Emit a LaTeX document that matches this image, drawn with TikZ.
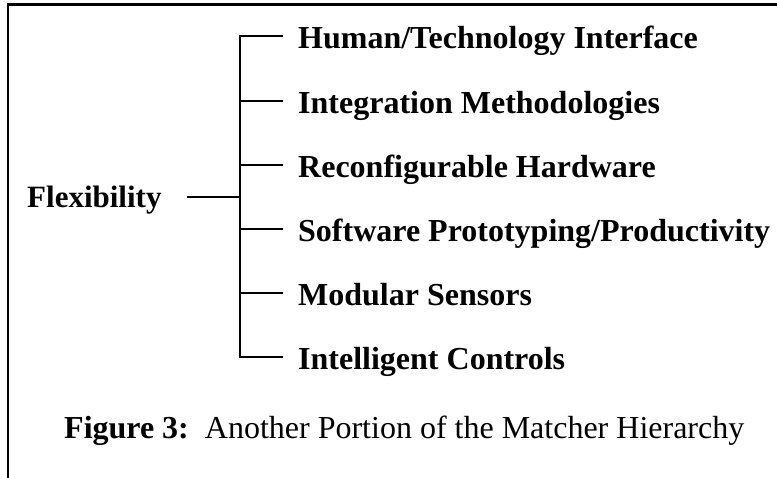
\documentclass[tikz,border=0pt]{standalone}
\usepackage{fontspec}
\setmainfont{Liberation Serif}
\begin{document}
\begin{tikzpicture}[x=1pt,y=-1pt,
  lbl/.style={anchor=base west,inner sep=0pt,font=\fontsize{32}{38}\selectfont\bfseries},
  rootlbl/.style={anchor=base west,inner sep=0pt,font=\fontsize{31}{37}\selectfont\bfseries},
  captionlbl/.style={anchor=base west,inner sep=0pt,font=\fontsize{32}{38}\selectfont},
  treeline/.style={line width=2pt},
  framelines/.style={line width=2.6pt}]
\useasboundingbox (0,0) rectangle (777,477);
% frame
\coordinate (fc) at (8,4.7);
\coordinate (fr) at (778,4.7);
\coordinate (fb) at (8,478);
\draw[framelines] (fb) -- (fc) -- (fr);
% root
\node[rootlbl] (root) at (27,207.3) {Flexibility};
\coordinate (rs) at (187,196.7);
\coordinate (rj) at (240,196.7);
\draw[treeline] (rs) -- (rj);
% children
\foreach \i/\y/\t in {1/36/{Human/Technology Interface},
                      2/100.7/{Integration Methodologies},
                      3/165/{Reconfigurable Hardware},
                      4/229/{Software Prototyping/Productivity},
                      5/292.7/{Modular Sensors},
                      6/357/{Intelligent Controls}}{
  \node[lbl] (c\i) at (298,\y+12.3) {\t};
  \coordinate (b\i) at (240,\y);
  \coordinate (e\i) at (283,\y);
  \draw[treeline] (b\i) -- (e\i);
}
\draw[treeline] ([yshift=1pt]b1) -- ([yshift=-1pt]b6);
% caption
\node[captionlbl] (caption) at (64,438.3) {\textbf{Figure 3:}\ \ Another Portion of the Matcher Hierarchy};
\end{tikzpicture}
\end{document}
